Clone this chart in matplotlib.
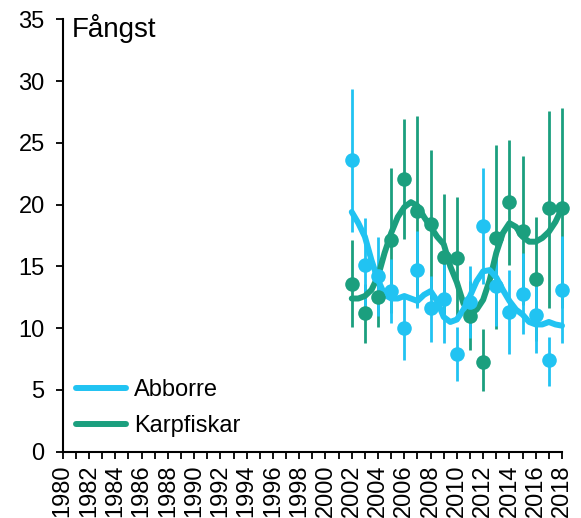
import numpy as np
import matplotlib
matplotlib.use("Agg")
import matplotlib.pyplot as plt
from matplotlib.lines import Line2D

plt.rcParams['font.family'] = ['Liberation Sans', 'DejaVu Sans']

years = list(range(2002, 2019))

# Abborre: punkt, nedre och övre gräns
abborre = [23.6, 15.1, 14.2, 13.0, 10.0, 14.7, 11.6, 12.4, 7.9, 12.1, 18.3, 13.4, 11.3, 12.8, 11.1, 7.4, 13.1]
abborre_lo = [17.8, 11.3, 11.0, 10.4, 7.4, 11.6, 8.9, 8.8, 5.7, 9.2, 13.6, 10.2, 7.9, 9.5, 8.0, 5.3, 8.8]
abborre_hi = [29.4, 18.9, 17.4, 15.6, 12.6, 17.9, 14.2, 16.0, 10.1, 15.0, 23.0, 16.6, 14.7, 16.1, 14.2, 9.3, 17.5]

# Karpfiskar
karp = [13.6, 11.2, 12.5, 17.1, 22.1, 19.5, 18.4, 15.8, 15.7, 11.0, 7.3, 17.3, 20.2, 17.9, 14.0, 19.7, 19.7]
karp_lo = [10.1, 8.8, 10.1, 11.2, 17.2, 11.8, 12.4, 10.7, 10.8, 8.2, 4.9, 9.9, 15.1, 11.9, 9.0, 11.6, 11.6]
karp_hi = [17.1, 13.6, 14.9, 23.0, 26.9, 27.2, 24.4, 20.9, 20.6, 13.8, 9.9, 24.8, 25.2, 23.9, 19.0, 27.6, 27.8]

# utjämnade kurvor, avlästa varje halvår
smooth_x = [2002, 2002.5, 2003, 2003.5, 2004, 2004.5, 2005, 2005.5, 2006, 2006.5, 2007, 2007.5,
            2008, 2008.5, 2009, 2009.5, 2010, 2010.5, 2011, 2011.5, 2012, 2012.5, 2013, 2013.5,
            2014, 2014.5, 2015, 2015.5, 2016, 2016.5, 2017, 2017.5, 2018]
abborre_smooth = [19.4, 18.5, 17.4, 15.5, 13.9, 12.7, 12.4, 12.4, 12.6, 12.4, 12.2, 12.7,
                  13.0, 12.2, 10.9, 10.5, 10.7, 11.5, 12.6, 13.8, 14.6, 14.7, 14.1, 13.1,
                  12.2, 11.5, 11.1, 10.5, 10.3, 10.3, 10.5, 10.3, 10.2]
karp_smooth = [12.4, 12.4, 12.6, 13.1, 14.2, 16.1, 17.7, 19.0, 19.8, 20.2, 19.9, 19.0,
               18.2, 17.4, 16.8, 15.0, 13.7, 12.0, 11.2, 11.5, 12.3, 13.9, 16.1, 17.7,
               18.5, 18.2, 17.4, 17.0, 17.0, 17.3, 17.8, 18.6, 19.7]

blue = '#21C3F2'
green = '#1B9F7E'

fig = plt.figure(figsize=(5.81, 5.18), dpi=100)
ax = fig.add_axes([0.1079, 0.128, 0.8594, 0.8347])

def series(y, lo, hi, sm, col):
    ax.vlines(years, lo, hi, color=col, lw=2.0, zorder=2, clip_on=False)
    ax.plot(smooth_x, sm, color=col, lw=4.3, solid_capstyle='round', solid_joinstyle='round',
            zorder=3, clip_on=False)
    ax.plot(years, y, 'o', color=col, ms=10.5, mec='none', zorder=4, clip_on=False)

series(karp, karp_lo, karp_hi, karp_smooth, green)
series(abborre, abborre_lo, abborre_hi, abborre_smooth, blue)

ax.set_xlim(1980, 2018)
ax.set_ylim(0, 35)
ax.set_xticks(range(1980, 2019, 2))
ax.set_xticks(range(1980, 2019), minor=True)
ax.set_xticklabels([str(y) for y in range(1980, 2019, 2)], rotation=90, fontsize=17)
ax.set_yticks(range(0, 36, 5))
ax.tick_params(axis='y', labelsize=17, direction='out', length=5, width=1.3, pad=8)
ax.tick_params(axis='x', which='both', direction='out', length=5, width=1.3, pad=4)
for s in ['top', 'right']:
    ax.spines[s].set_visible(False)
for s in ['left', 'bottom']:
    ax.spines[s].set_linewidth(1.5)

ax.text(0.019, 0.96, 'Fångst', transform=ax.transAxes, fontsize=20, va='baseline', ha='left')

handles = [Line2D([], [], color=blue, lw=4.3, solid_capstyle='round'),
           Line2D([], [], color=green, lw=4.3, solid_capstyle='round')]
ax.legend(handles, ['Abborre', 'Karpfiskar'], loc='lower left', bbox_to_anchor=(0.027, 0.034),
          frameon=False, fontsize=17, handlelength=2.1, handletextpad=0.34, labelspacing=0.6,
          borderpad=0, borderaxespad=0)

fig.savefig('out.png', dpi=100)
